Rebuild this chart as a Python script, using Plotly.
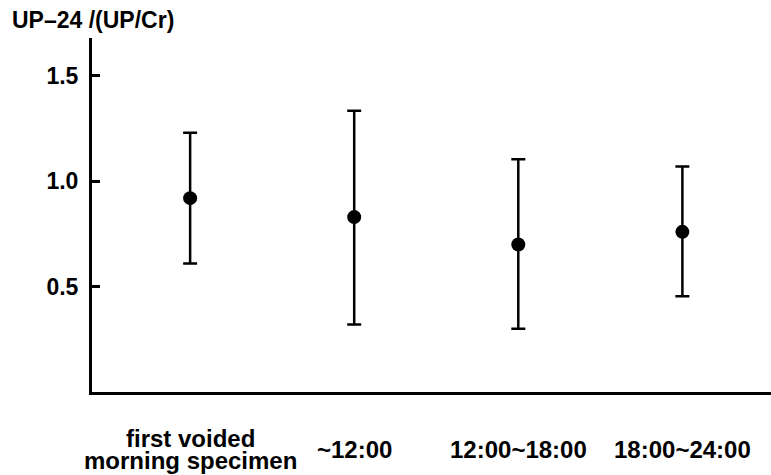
import plotly.graph_objects as go

categories = ["first voided<br>morning specimen", "~12:00", "12:00~18:00", "18:00~24:00"]
means = [0.92, 0.83, 0.70, 0.76]
upper = [1.23, 1.335, 1.105, 1.07]
lower = [0.61, 0.32, 0.30, 0.455]
y_ticks = [0.5, 1.0, 1.5]
y_tick_text = ["0.5", "1.0", "1.5"]
y_title = "UP–24 /(UP/Cr)"

err_plus = [u - m for u, m in zip(upper, means)]
err_minus = [m - l for m, l in zip(means, lower)]

FONT = "Liberation Sans, Arial, Helvetica, sans-serif"
PLOT_H = 354.5
AXIS_Y = 392.5

fig = go.Figure()
fig.add_trace(go.Scatter(
    x=categories, y=means, mode="markers",
    marker=dict(color="black", size=14),
    error_y=dict(type="data", symmetric=False, array=err_plus, arrayminus=err_minus,
                 color="black", thickness=2.5, width=7),
    showlegend=False,
))

def py(pix):
    return -(pix - AXIS_Y) / PLOT_H

for c in categories:
    lines = c.split("<br>")
    if len(lines) == 1:
        centers = [450]
    else:
        centers = [439, 461]
    for ln, cy in zip(lines, centers):
        fig.add_annotation(x=c, xref="x", y=py(cy), yref="paper", text=ln, showarrow=False,
                           xanchor="center", yanchor="middle",
                           font=dict(family=FONT, size=24, color="black", weight="bold"))

fig.add_annotation(x=-82/679, xref="paper", y=1 + 18/PLOT_H, yref="paper", text=y_title,
                   showarrow=False, xanchor="left", yanchor="middle",
                   font=dict(family=FONT, size=23, color="black", weight="bold"))

fig.update_layout(
    width=771, height=475,
    margin=dict(l=92, r=0, t=38, b=475 - AXIS_Y),
    paper_bgcolor="white", plot_bgcolor="white",
    font=dict(family=FONT, color="black"),
    xaxis=dict(type="category", range=[-0.598, 3.54], showgrid=False, zeroline=False,
               showline=True, linecolor="black", linewidth=3, ticks="",
               showticklabels=False, fixedrange=True),
    yaxis=dict(range=[0, 1.68], showgrid=False, zeroline=False,
               showline=True, linecolor="black", linewidth=3,
               ticks="inside", ticklen=8, tickwidth=3, tickcolor="black",
               tickvals=y_ticks, ticktext=y_tick_text,
               tickfont=dict(family=FONT, size=23, color="black", weight="bold"),
               ticklabelstandoff=6, fixedrange=True),
)

fig.write_html("out.html")
